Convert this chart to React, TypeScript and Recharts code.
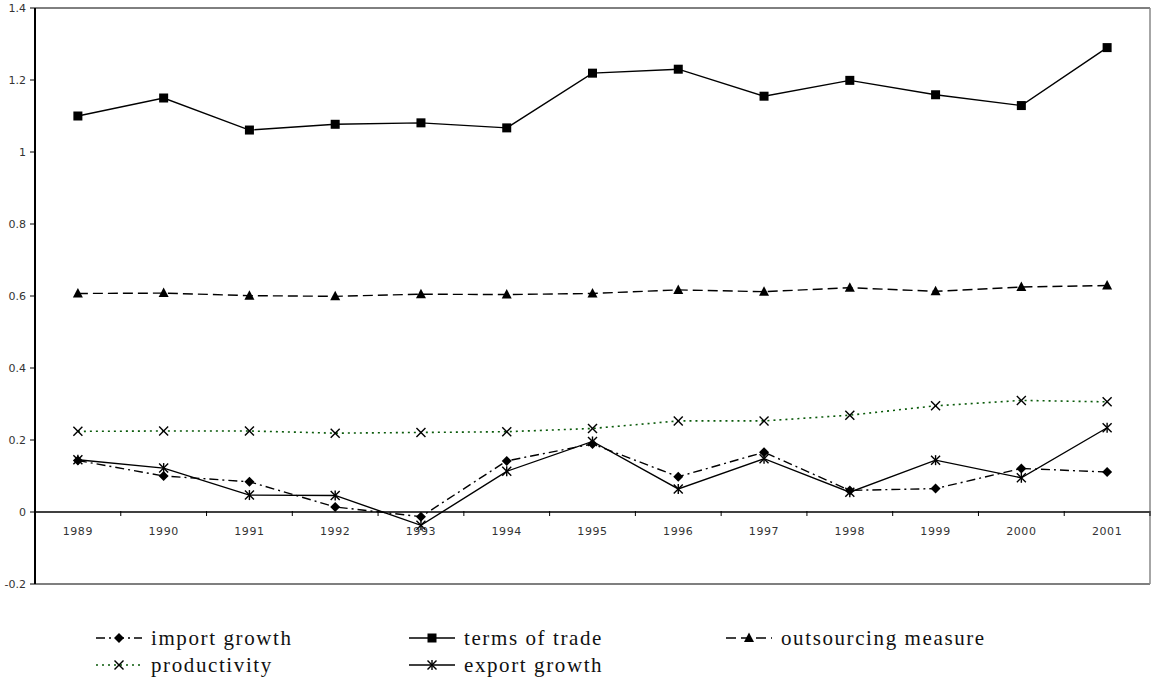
import React from 'react';
import { LineChart, Line, XAxis, YAxis, ReferenceLine } from 'recharts';

const years = ['1989', '1990', '1991', '1992', '1993', '1994', '1995', '1996', '1997', '1998', '1999', '2000', '2001'];
const importGrowth = [0.143, 0.1, 0.084, 0.014, -0.013, 0.142, 0.189, 0.098, 0.166, 0.06, 0.065, 0.121, 0.111];
const termsOfTrade = [1.1, 1.15, 1.061, 1.077, 1.081, 1.067, 1.219, 1.23, 1.155, 1.199, 1.159, 1.129, 1.29];
const outsourcing = [0.607, 0.608, 0.601, 0.599, 0.605, 0.604, 0.607, 0.617, 0.612, 0.623, 0.613, 0.625, 0.629];
const productivity = [0.224, 0.225, 0.225, 0.219, 0.221, 0.223, 0.232, 0.253, 0.253, 0.269, 0.295, 0.31, 0.306];
const exportGrowth = [0.145, 0.122, 0.047, 0.046, -0.037, 0.113, 0.196, 0.064, 0.148, 0.055, 0.144, 0.095, 0.234];
const yTicks = [-0.2, 0, 0.2, 0.4, 0.6, 0.8, 1, 1.2, 1.4];

const data = years.map((year, i) => ({
  year,
  importGrowth: importGrowth[i],
  termsOfTrade: termsOfTrade[i],
  outsourcing: outsourcing[i],
  productivity: productivity[i],
  exportGrowth: exportGrowth[i],
}));

const W = 1152;
const H = 682;
const X_AXIS_H = 1;
const RIGHT_AXIS_W = 1;
const MARGIN = { top: 7, right: 1, left: 0, bottom: 97 };
const Y_AXIS_W = 35;
const Y_MIN = -0.2;
const Y_MAX = 1.4;
const PLOT_W = W - MARGIN.left - MARGIN.right - Y_AXIS_W - RIGHT_AXIS_W;
const PLOT_H = H - MARGIN.top - MARGIN.bottom - 2 * X_AXIS_H;
const BAND = PLOT_W / years.length;
const ZERO_UP = (PLOT_H * (0 - Y_MIN)) / (Y_MAX - Y_MIN);

type MarkerKind = 'diamond' | 'square' | 'triangle' | 'x' | 'star';

const Marker = ({ kind, cx, cy }: { kind: MarkerKind; cx: number; cy: number }) => {
  if (kind === 'diamond') {
    const r = 5;
    return <polygon points={`${cx},${cy - r} ${cx + r},${cy} ${cx},${cy + r} ${cx - r},${cy}`} fill="#000" />;
  }
  if (kind === 'square') {
    const r = 4.5;
    return <rect x={cx - r} y={cy - r} width={2 * r} height={2 * r} fill="#000" />;
  }
  if (kind === 'triangle') {
    return <polygon points={`${cx},${cy - 5.5} ${cx + 5},${cy + 4} ${cx - 5},${cy + 4}`} fill="#000" />;
  }
  if (kind === 'x') {
    const r = 4.5;
    return (
      <g stroke="#000" strokeWidth={1.4}>
        <line x1={cx - r} y1={cy - r} x2={cx + r} y2={cy + r} />
        <line x1={cx - r} y1={cy + r} x2={cx + r} y2={cy - r} />
      </g>
    );
  }
  const r = 4.5;
  return (
    <g stroke="#000" strokeWidth={1.4}>
      <line x1={cx - r} y1={cy - r} x2={cx + r} y2={cy + r} />
      <line x1={cx - r} y1={cy + r} x2={cx + r} y2={cy - r} />
      <line x1={cx} y1={cy - r - 0.5} x2={cx} y2={cy + r + 0.5} />
    </g>
  );
};

const series: { key: string; name: string; color: string; dash?: string; marker: MarkerKind; width: number }[] = [
  { key: 'importGrowth', name: 'import growth', color: '#000', dash: '9 4 2 4', marker: 'diamond', width: 1.4 },
  { key: 'termsOfTrade', name: 'terms of trade', color: '#000', marker: 'square', width: 1.4 },
  { key: 'outsourcing', name: 'outsourcing measure', color: '#000', dash: '10 5', marker: 'triangle', width: 1.4 },
  { key: 'productivity', name: 'productivity', color: '#0a5a0a', dash: '2 4', marker: 'x', width: 1.6 },
  { key: 'exportGrowth', name: 'export growth', color: '#000', marker: 'star', width: 1.4 },
];

const XTick = (props: any) => {
  const { x, y, payload } = props;
  const zy = y - X_AXIS_H - ZERO_UP;
  return (
    <g>
      <line x1={x + BAND / 2} y1={zy} x2={x + BAND / 2} y2={zy + 5} stroke="#000" strokeWidth={1} />
      <text x={x} y={zy + 24} textAnchor="middle" fontSize={11} fontFamily="DejaVu Sans" fill="#333" letterSpacing={0.6}>
        {payload.value}
      </text>
    </g>
  );
};

const fmtY = (v: number) => String(Math.round(v * 10) / 10);

const LegendSymbol = ({ s }: { s: (typeof series)[number] }) => (
  <svg width={48} height={16} style={{ display: 'block' }}>
    <line x1={1} y1={8} x2={47} y2={8} stroke={s.color} strokeWidth={s.width} strokeDasharray={s.dash} />
    <Marker kind={s.marker} cx={24} cy={8} />
  </svg>
);

const legendCols = [95, 408, 725];
const legendRows = [638, 665];

export default function App() {
  return (
    <div style={{ position: 'absolute', left: 0, top: 0, width: W, height: H, background: '#fff' }}>
      <LineChart width={W} height={H} data={data} margin={MARGIN}>
        <XAxis
          dataKey="year"
          scale="band"
          height={X_AXIS_H}
          tickSize={0}
          tickMargin={0}
          axisLine={{ stroke: '#000', strokeWidth: 1.2 }}
          tickLine={false}
          tick={<XTick />}
          interval={0}
        />
        <XAxis
          xAxisId="top"
          dataKey="year"
          scale="band"
          orientation="top"
          height={X_AXIS_H}
          tick={false}
          tickLine={false}
          axisLine={{ stroke: '#000', strokeWidth: 1 }}
        />
        <YAxis
          domain={[Y_MIN, Y_MAX]}
          ticks={yTicks}
          width={Y_AXIS_W}
          tickSize={5}
          tickMargin={4}
          tickFormatter={fmtY}
          axisLine={{ stroke: '#000', strokeWidth: 2 }}
          tickLine={{ stroke: '#000' }}
          tick={{ fontSize: 11, fontFamily: 'DejaVu Sans', fill: '#333' }}
          interval={0}
        />
        <YAxis
          yAxisId="right"
          orientation="right"
          width={RIGHT_AXIS_W}
          domain={[Y_MIN, Y_MAX]}
          tick={false}
          tickLine={false}
          axisLine={{ stroke: '#888', strokeWidth: 1.5 }}
        />
        <ReferenceLine y={0} stroke="#000" strokeWidth={1.5} />
        {series.map((s) => (
          <Line
            key={s.key}
            dataKey={s.key}
            name={s.name}
            stroke={s.color}
            strokeWidth={s.width}
            strokeDasharray={s.dash}
            isAnimationActive={false}
            dot={(p: any) => (
              <g key={`${s.key}-${p.index}`}>
                <Marker kind={s.marker} cx={p.cx} cy={p.cy} />
              </g>
            )}
            activeDot={false}
          />
        ))}
      </LineChart>
      {series.map((s, i) => (
        <div
          key={s.key}
          style={{
            position: 'absolute',
            left: legendCols[i % 3],
            top: legendRows[Math.floor(i / 3)] - 12,
            height: 24,
            display: 'flex',
            alignItems: 'center',
            gap: 8,
            fontFamily: '"Liberation Serif", serif',
            fontSize: 21,
            letterSpacing: 1.6,
            color: '#111',
            whiteSpace: 'nowrap',
          }}
        >
          <LegendSymbol s={s} />
          <span>{s.name}</span>
        </div>
      ))}
    </div>
  );
}
